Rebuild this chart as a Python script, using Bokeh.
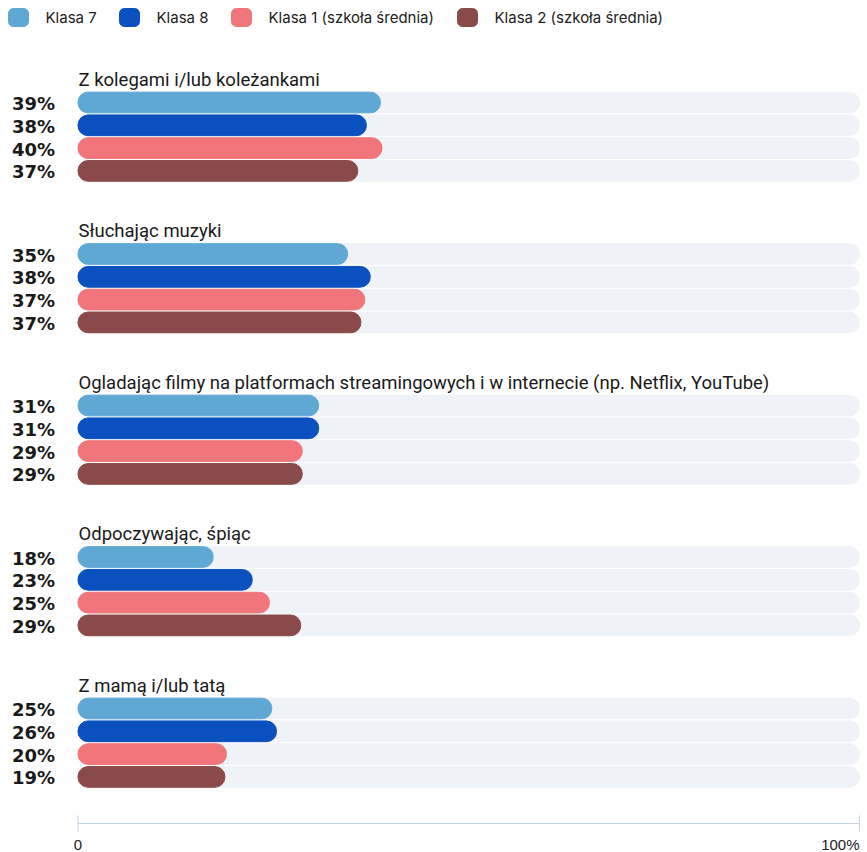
from bokeh.plotting import figure
from bokeh.models import Range1d
from bokeh.core.properties import value
from bokeh.embed import file_html
from bokeh.resources import INLINE

# ---- data ----
series = ["Klasa 7", "Klasa 8", "Klasa 1 (szkoła średnia)", "Klasa 2 (szkoła średnia)"]
colors = ["#5fa8d4", "#0a50be", "#f0767b", "#8b4a4a"]
categories = [
    "Z kolegami i/lub koleżankami",
    "Słuchając muzyki",
    "Ogladając filmy na platformach streamingowych i w internecie (np. Netflix, YouTube)",
    "Odpoczywając, śpiąc",
    "Z mamą i/lub tatą",
]
# bar lengths as drawn (percent)
klasa7 = [38.7, 34.5, 30.8, 17.3, 24.8]
klasa8 = [36.9, 37.4, 30.8, 22.3, 25.4]
klasa1 = [38.9, 36.7, 28.7, 24.5, 19.0]
klasa2 = [35.8, 36.2, 28.7, 28.5, 18.8]
# printed labels
lab7 = ["39%", "35%", "31%", "18%", "25%"]
lab8 = ["38%", "38%", "31%", "23%", "26%"]
lab1 = ["40%", "37%", "29%", "25%", "20%"]
lab2 = ["37%", "37%", "29%", "29%", "19%"]
axis_ticks = [0, 100]
axis_labels = ["0", "100%"]

values = [klasa7, klasa8, klasa1, klasa2]
labels = [lab7, lab8, lab1, lab2]

# ---- layout helpers (screen pixels) ----
W, H = 867, 852
X0, SC = 77.5, 7.815          # screen x of 0 %, px per percent


def dx(px):
    return (px - X0) / SC


GROUP_TOP = 102.0
GROUP_STEP = 151.5
BAR_STEP = 22.8
BAR_H = 20.7

p = figure(width=W, height=H, output_backend="svg", toolbar_location=None,
           x_range=Range1d(dx(0), dx(W)), y_range=Range1d(H, 0),
           min_border=0, min_border_left=0, min_border_right=0,
           min_border_top=0, min_border_bottom=0)
p.axis.visible = False
p.grid.visible = False
p.outline_line_color = None
p.background_fill_color = "white"

# bars
ty, tr, by, br, bc, ly, lt = [], [], [], [], [], [], []
title_y = []
for g in range(len(categories)):
    base = GROUP_TOP + g * GROUP_STEP
    title_y.append(base - 23)
    for s in range(len(series)):
        y = base + s * BAR_STEP
        ty.append(y); tr.append(100)
        by.append(y); br.append(values[s][g]); bc.append(colors[s])
        ly.append(y); lt.append(labels[s][g])

p.hbar(y=ty, left=0, right=tr, height=BAR_H, color="#eff2f7", border_radius=10)
p.hbar(y=by, left=0, right=br, height=BAR_H, color=bc, border_radius=10)

# percent labels
p.text(x=[dx(54.5)] * len(ly), y=[v + 1 for v in ly], text=lt,
       text_font=value("DejaVu Sans"), text_font_style="bold",
       text_font_size="18px", text_align="right", text_baseline="middle",
       text_color="#1a1a1a")

# group titles
p.text(x=[dx(78)] * len(categories), y=title_y, text=categories,
       text_font=value("Roboto"), text_font_size="18.5px",
       text_align="left", text_baseline="alphabetic", text_color="#1a1a1a")

# legend
leg_x = [8, 119, 231, 457]
for i, name in enumerate(series):
    p.rect(x=[dx(leg_x[i] + 10)], y=[17], width=20 / SC, height=18,
           color=colors[i], border_radius=5)
    p.text(x=[dx(leg_x[i] + 37)], y=[17], text=[name],
           text_font=value("Inter"), text_font_size="15px",
           text_align="left", text_baseline="middle", text_color="#222222")

# axis
AX_Y = 823
p.segment(x0=[axis_ticks[0]], x1=[axis_ticks[-1]], y0=[AX_Y], y1=[AX_Y],
          line_color="#c9d5e4", line_width=1.2)
p.segment(x0=axis_ticks, x1=axis_ticks, y0=[AX_Y - 8] * 2, y1=[AX_Y + 8] * 2,
          line_color="#c9d5e4", line_width=1.2)
p.text(x=axis_ticks, y=[844, 844], text=axis_labels,
       text_align=["center", "right"], text_baseline="alphabetic",
       text_font=value("Liberation Sans"), text_font_size="15px",
       text_color="#222222")

open("out.html", "w").write(file_html(p, INLINE))
